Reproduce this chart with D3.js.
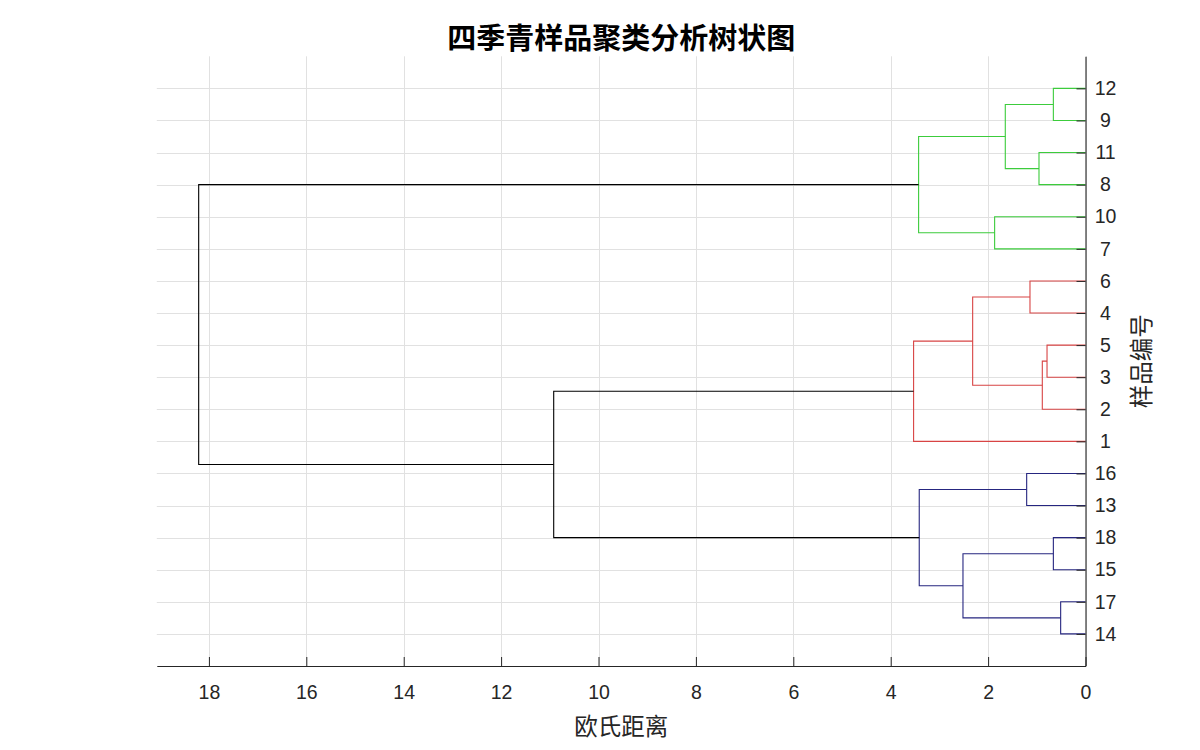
<!DOCTYPE html>
<html>
<head>
<meta charset="utf-8">
<script src="https://cdn.jsdelivr.net/npm/d3@7/dist/d3.min.js"></script>
<style>
  html, body { margin: 0; padding: 0; background: #ffffff; }
  svg { display: block; }
  .tick text { font-family: "Liberation Sans", Arial, Helvetica, sans-serif; fill: #262626; }
</style>
</head>
<body>
<svg id="chart" width="1200" height="750"></svg>
<script>
// Leaf labels, top to bottom along the distance axis
const leafLabels = ["12", "9", "11", "8", "10", "7", "6", "4", "5", "3", "2", "1",
                    "16", "13", "18", "15", "17", "14"];

// Cluster merges: id, the two joined members, joining distance, and branch group
const mergeIds    = ["g1", "g2", "g3", "g4", "g5",
                     "r1", "r2", "r3", "r4", "r5",
                     "b1", "b2", "b3", "b4", "b5",
                     "k1", "k2"];
const mergeLeft   = ["12", "11", "g1", "10", "g3",
                     "6",  "5",  "r2", "r1", "r4",
                     "16", "18", "17", "b2", "b1",
                     "r5", "g5"];
const mergeRight  = ["9",  "8",  "g2", "7",  "g4",
                     "4",  "3",  "2",  "r3", "1",
                     "13", "15", "14", "b3", "b4",
                     "b5", "k1"];
const mergeHeights = [0.66, 0.955, 1.647, 1.866, 3.427,
                      1.14, 0.79, 0.887, 2.317, 3.53,
                      1.208, 0.66, 0.51, 2.516, 3.414,
                      10.92, 18.21];
const mergeGroups = ["green", "green", "green", "green", "green",
                     "red", "red", "red", "red", "red",
                     "blue", "blue", "blue", "blue", "blue",
                     "root", "root"];

const xTicks = [0, 2, 4, 6, 8, 10, 12, 14, 16, 18];

const titleText = "四季青样品聚类分析树状图";
const xTitle = "欧氏距离";
const yTitle = "样品编号";

const groupColor = { green: "#3ccc3c", red: "#d84444", blue: "#262680", root: "#000000" };

const svg = d3.select("#chart");
const plot = { left: 156.8, right: 1085.5, top: 56.3, bottom: 666 };

// Distance runs right-to-left; leaves sit at integer positions 1..n from the bottom
const x = d3.scaleLinear().domain([0, 19.07]).range([plot.right, plot.left]);
const y = d3.scaleLinear().domain([0, leafLabels.length + 1]).range([plot.bottom, plot.top]);

const nLeaves = leafLabels.length;
const leafPos = {};
leafLabels.forEach((lab, i) => { leafPos[lab] = nLeaves - i; });

// Grid
const grid = svg.append("g").attr("stroke", "#e1e1e1").attr("stroke-width", 1);
grid.selectAll("line.v").data(xTicks).join("line")
  .attr("class", "v")
  .attr("x1", d => Math.round(x(d)) + 0.5).attr("x2", d => Math.round(x(d)) + 0.5)
  .attr("y1", plot.top).attr("y2", plot.bottom);
grid.selectAll("line.h").data(d3.range(1, nLeaves + 1)).join("line")
  .attr("class", "h")
  .attr("x1", plot.left).attr("x2", plot.right)
  .attr("y1", d => Math.round(y(d)) + 0.5).attr("y2", d => Math.round(y(d)) + 0.5);

// Build node positions (y = mean of the two children, x = merge height)
const nodeY = {}, nodeH = {};
leafLabels.forEach(lab => { nodeY[lab] = leafPos[lab]; nodeH[lab] = 0; });
const links = mergeIds.map((id, i) => {
  const a = mergeLeft[i], b = mergeRight[i], h = mergeHeights[i];
  nodeY[id] = (nodeY[a] + nodeY[b]) / 2;
  nodeH[id] = h;
  return { id, a, b, h, group: mergeGroups[i] };
});

// Each merge is drawn as a bracket: child a -> merge height -> child b
const path = l => {
  const ya = y(nodeY[l.a]), yb = y(nodeY[l.b]);
  const xa = x(nodeH[l.a]), xb = x(nodeH[l.b]), xm = x(l.h);
  return `M${xa},${ya}H${xm}V${yb}H${xb}`;
};

svg.append("g").attr("fill", "none").attr("stroke-width", 1.1)
  .selectAll("path").data(links).join("path")
  .attr("d", path)
  .attr("stroke", d => groupColor[d.group]);

// Axes
const xAxis = d3.axisBottom(x).tickValues(xTicks).tickFormat(d3.format("d"))
  .tickSizeInner(-9).tickSizeOuter(0).tickPadding(19);
const gx = svg.append("g").attr("transform", `translate(0,${plot.bottom})`).call(xAxis);
gx.selectAll("text").attr("font-size", 19.5);

const yAxis = d3.axisRight(y).tickValues(d3.range(1, nLeaves + 1))
  .tickFormat(d => leafLabels[nLeaves - d])
  .tickSizeInner(-9).tickSizeOuter(0).tickPadding(20);
const gy = svg.append("g").attr("transform", `translate(${plot.right},0)`).call(yAxis);
gy.selectAll("text").attr("font-size", 19.5).attr("text-anchor", "middle").attr("x", 20);

[gx, gy].forEach(g => {
  g.select(".domain").attr("stroke", "#262626").attr("stroke-width", 1.1);
  g.selectAll(".tick line").attr("stroke", "#262626");
  g.attr("font-family", null);
});

// Titles
svg.append("text")
  .attr("x", (plot.left + plot.right) / 2).attr("y", 36)
  .attr("text-anchor", "middle").attr("dominant-baseline", "central")
  .attr("font-family", "'Noto Sans CJK SC', sans-serif")
  .attr("font-weight", 700).attr("font-size", 29).attr("fill", "#000")
  .text(titleText);

svg.append("text")
  .attr("x", (plot.left + plot.right) / 2).attr("y", 725)
  .attr("text-anchor", "middle").attr("dominant-baseline", "central")
  .attr("font-family", "'Noto Sans CJK SC', sans-serif")
  .attr("font-size", 23.5).attr("fill", "#262626")
  .text(xTitle);

svg.append("text")
  .attr("transform", `translate(1139.5,${(plot.top + plot.bottom) / 2}) rotate(-90)`)
  .attr("text-anchor", "middle").attr("dominant-baseline", "central")
  .attr("font-family", "'Noto Sans CJK SC', sans-serif")
  .attr("font-size", 23.5).attr("fill", "#262626")
  .text(yTitle);
</script>
</body>
</html>
